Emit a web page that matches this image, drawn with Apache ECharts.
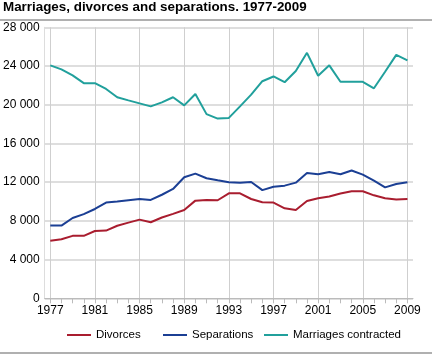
<!DOCTYPE html>
<html>
<head>
<meta charset="utf-8">
<script src="https://cdn.jsdelivr.net/npm/echarts@6/dist/echarts.min.js"></script>
<style>
html,body{margin:0;padding:0;background:#fff;}
#c{width:432px;height:361px;}
</style>
</head>
<body>
<div id="c"></div>
<script>
const years = ['1977','1978','1979','1980','1981','1982','1983','1984','1985','1986','1987','1988','1989','1990','1991','1992','1993','1994','1995','1996','1997','1998','1999','2000','2001','2002','2003','2004','2005','2006','2007','2008','2009'];
const divorces = [5950,6100,6450,6450,6950,7000,7500,7820,8130,7860,8350,8720,9130,10090,10160,10130,10850,10850,10260,9920,9890,9300,9130,10060,10330,10510,10820,11060,11060,10640,10330,10200,10260];
const separations = [7520,7510,8300,8700,9230,9890,9990,10130,10250,10160,10700,11300,12500,12880,12400,12190,11990,11950,12020,11180,11520,11640,11950,12950,12810,13040,12810,13200,12780,12150,11460,11810,11990];
const marriages = [24070,23650,23030,22230,22230,21630,20770,20450,20140,19830,20240,20770,19930,21110,19030,18570,18640,19830,21040,22430,22920,22330,23480,25360,22990,24070,22370,22370,22370,21700,23410,25150,24590];
const seriesNames = ['Divorces','Separations','Marriages contracted'];
const yTicks = {min:0, max:28000, interval:4000};

const chart = echarts.init(document.getElementById('c'), null, {renderer:'canvas'});
const font = 'Liberation Sans';
function mk(name, data, color){
  return {name:name, type:'line', data:data, symbol:'none', showSymbol:false,
    lineStyle:{color:color, width:2}, itemStyle:{color:color}, animation:false};
}
const legendLefts = [67, 163, 264];
const legends = seriesNames.map(function(n, i){
  return {left:legendLefts[i], top:329, padding:0, icon:'rect', itemWidth:24, itemHeight:2,
    textStyle:{fontFamily:font, fontSize:11.5, color:'#000'}, data:[n]};
});
chart.setOption({
  animation:false,
  textStyle:{fontFamily:font},
  title:{text:'Marriages, divorces and separations. 1977-2009', left:3, top:1, padding:0,
    textStyle:{fontFamily:font, fontSize:13.4, fontWeight:'bold', color:'#000'}},
  graphic:[
    {type:'rect', shape:{x:0,y:19,width:432,height:2}, style:{fill:'#b0b0b0'}},
    {type:'rect', shape:{x:0,y:352,width:432,height:2}, style:{fill:'#b0b0b0'}}
  ],
  grid:{left:43, right:19, top:27.3, bottom:62.7, containLabel:false},
  legend:legends,
  xAxis:{type:'category', data:years, boundaryGap:true,
    axisLine:{show:true, lineStyle:{color:'#bbb', width:1}},
    axisTick:{show:true, alignWithLabel:true, interval:0, length:5, lineStyle:{color:'#bbb'}},
    axisLabel:{interval:3, fontFamily:font, fontSize:12, color:'#000', margin:6},
    splitLine:{show:true, interval:3, alignWithLabel:true, lineStyle:{color:'#cfcfcf', width:1}}
  },
  yAxis:{type:'value', min:yTicks.min, max:yTicks.max, interval:yTicks.interval,
    axisLine:{show:true, lineStyle:{color:'#ddd', width:1}},
    axisTick:{show:false},
    axisLabel:{fontFamily:font, fontSize:12, color:'#000', margin:5,
      formatter:function(v){return String(v).replace(/\B(?=(\d{3})+(?!\d))/g,' ');}},
    splitLine:{show:true, lineStyle:{color:'#dedede', width:2}}
  },
  series:[
    mk(seriesNames[0], divorces, '#a91d2f'),
    mk(seriesNames[1], separations, '#1b3f94'),
    mk(seriesNames[2], marriages, '#21a09c')
  ]
});
</script>
</body>
</html>
